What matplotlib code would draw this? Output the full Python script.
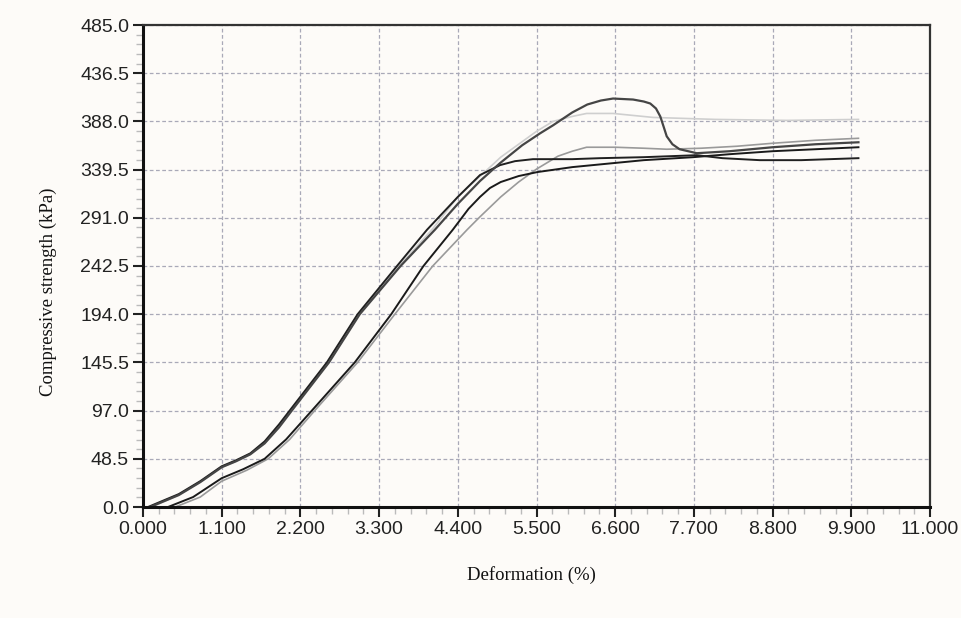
import numpy as np
import matplotlib
matplotlib.use("Agg")
from matplotlib import pyplot as plt
from matplotlib.ticker import MultipleLocator, FormatStrFormatter

# curves (deformation %, strength kPa)
a_x = [0.10, 0.5, 0.8, 1.1, 1.3, 1.5, 1.7, 1.9, 2.08, 2.6, 3.03, 3.6, 4.08, 4.4, 4.71, 4.99, 5.3, 5.55, 5.73, 6.0, 6.21, 6.4, 6.57, 6.85, 7.0, 7.09, 7.17, 7.23, 7.28, 7.32, 7.4, 7.5, 7.74, 8.2, 8.8, 9.4, 10.0]
a_y = [0, 12, 25, 40, 46, 53, 64, 80, 97, 145.5, 194, 242.5, 279, 305, 328, 346, 364, 376, 384, 397, 405, 409, 411, 410, 408, 406, 401, 393, 382, 373, 365, 360, 356, 358, 362, 365, 367]

b_x = [0.07, 0.5, 0.8, 1.1, 1.3, 1.5, 1.7, 1.9, 2.05, 2.57, 3.0, 3.55, 3.97, 4.4, 4.71, 4.99, 5.2, 5.45, 6.0, 6.39, 7.0, 7.74, 8.1, 8.62, 9.2, 9.6, 10.0]
b_y = [0, 13, 26, 41, 47, 54, 66, 83, 97, 145.5, 194, 242.5, 279, 312, 334, 344, 348, 350, 350, 351, 352, 354, 351, 349, 349, 350, 351]

c_x = [0.35, 0.7, 1.1, 1.4, 1.7, 2.0, 2.36, 2.96, 3.47, 3.92, 4.33, 4.55, 4.71, 4.85, 5.0, 5.25, 5.51, 6.0, 6.57, 7.0, 7.69, 8.2, 8.8, 9.4, 10.0]
c_y = [0, 10, 29, 38, 48.5, 68, 97, 145.5, 194, 242.5, 279, 300, 312, 321, 327, 333, 337, 342, 346, 349, 352, 355, 358, 360, 362]

d_x = [0.45, 0.8, 1.1, 1.45, 1.75, 2.05, 2.4, 3.0, 3.52, 4.05, 4.53, 4.71, 5.0, 5.25, 5.5, 5.8, 6.0, 6.2, 6.6, 7.0, 7.32, 7.8, 8.3, 8.8, 9.4, 10.0]
d_y = [0, 10, 26, 37, 48.5, 68, 97, 145.5, 194, 242.5, 279, 292, 312, 327, 340, 353, 358, 362, 362, 361, 360, 361, 363, 366, 369, 371]

e_x = [0.12, 0.5, 0.8, 1.1, 1.3, 1.5, 1.7, 2.07, 2.6, 3.02, 3.58, 4.05, 4.4, 5.0, 5.5, 5.73, 6.0, 6.2, 6.57, 7.13, 8.0, 9.0, 10.0]
e_y = [0, 12, 25, 40, 46, 53, 64, 97, 146, 194, 242.5, 280, 312, 352, 378, 388, 393, 396, 396, 392, 390, 389, 390]

x_ticks = np.arange(0, 11.0001, 1.1)
y_ticks = np.arange(0, 485.0001, 48.5)

bg = "#fdfbf8"
fig = plt.figure(figsize=(9.61, 6.18), dpi=100, facecolor=bg)
ax = fig.add_axes([143/961, 111/618, 787/961, 482/618], facecolor=bg)

ax.plot(e_x, e_y, color="#cfcfcf", lw=1.2)
ax.plot(d_x, d_y, color="#9a9a9a", lw=1.2)
ax.plot(c_x, c_y, color="#1a1a1a", lw=1.4)
ax.plot(b_x, b_y, color="#202020", lw=1.4)
ax.plot(a_x, a_y, color="#454545", lw=1.6)

ax.set_xlim(0, 11)
ax.set_ylim(0, 485)
ax.set_xticks(x_ticks)
ax.set_yticks(y_ticks)
ax.xaxis.set_major_formatter(FormatStrFormatter("%.3f"))
ax.yaxis.set_major_formatter(FormatStrFormatter("%.1f"))
ax.xaxis.set_minor_locator(MultipleLocator(0.22))
ax.yaxis.set_minor_locator(MultipleLocator(9.7))

ax.grid(True, which="major", color="#a9a9b8", linestyle=(0, (3, 2)), lw=0.9)
ax.tick_params(which="major", direction="out", length=7, width=1.5, color="#222222",
               labelsize=14, labelcolor="#222222", pad=3)
ax.tick_params(which="minor", direction="out", length=5, width=1, color="#bbbbbb")
for lab in ax.get_xticklabels() + ax.get_yticklabels():
    lab.set_family("Liberation Sans")

for side in ["left", "bottom"]:
    ax.spines[side].set_linewidth(2.2)
    ax.spines[side].set_color("#111111")
for side in ["top", "right"]:
    ax.spines[side].set_linewidth(1.6)
    ax.spines[side].set_color("#333333")

fig.text(531/961, 1 - 575/618, "Deformation (%)", family="Liberation Serif", fontsize=13.5,
         ha="center", va="center", color="#111111")
fig.text(48/961, 1 - 292/618, "Compressive strength (kPa)", family="Liberation Serif", fontsize=13.5,
         ha="center", va="center", rotation=90, color="#111111")

fig.savefig("out.png", dpi=100, facecolor=bg)
